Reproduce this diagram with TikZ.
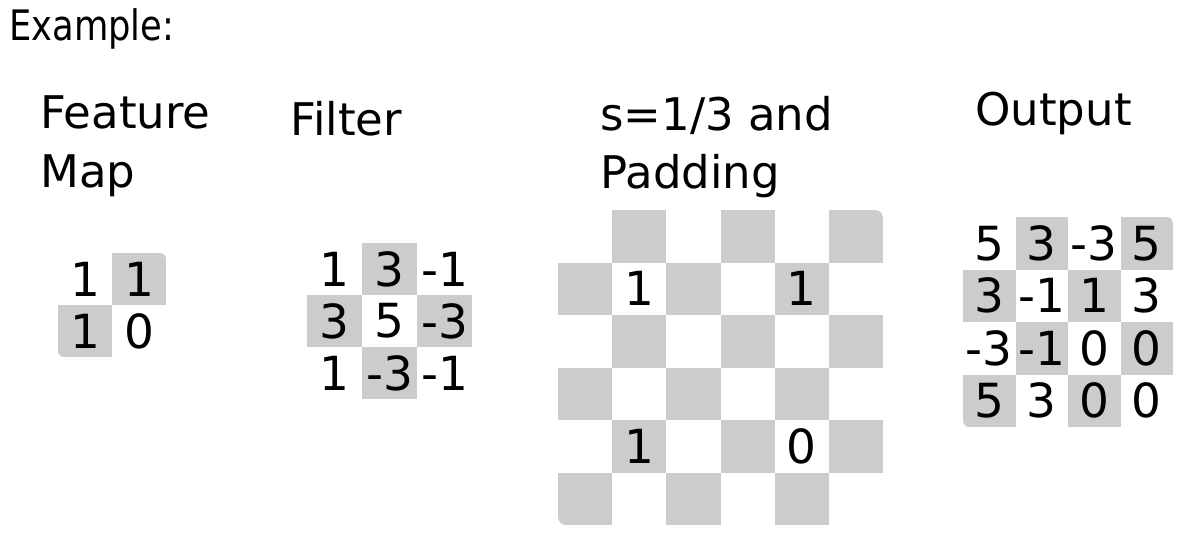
\documentclass[tikz,border=0pt]{standalone}
\usepackage{fontspec}
\setmainfont{DejaVu Sans}
\newfontfamily\narrowfont[FakeStretch=0.84]{DejaVu Sans}
\usetikzlibrary{positioning}
\definecolor{cellgray}{RGB}{204,204,204}
\tikzset{title/.style={anchor=base west, inner sep=0pt, font=\fontsize{22.5}{27}\selectfont},
         cell/.style={anchor=north west, inner sep=0pt, outer sep=0pt, font=\fontsize{23.5}{28}\selectfont},
         num/.style={inner sep=0pt, font=\fontsize{23.5}{28}\selectfont}
}

\begin{document}
\begin{tikzpicture}[x=0.5pt, y=-0.5pt]
  \fill[white] (0,0) rectangle (1196,552);
  \node[title, font=\narrowfont\fontsize{21}{25}\selectfont] (ex) at (9,40) {Example:};
  % titles
  \node[title] (fmt1) at (40,128) {Feature};
  \node[title] (fmt2) at (40,187) {Map};
  \node[title] (flt) at (290,135) {Filter};
  \node[title] (pdt1) at (600,130) {s=1/3 and};
  \node[title] (pdt2) at (600,188) {Padding};
  \node[title] (outt) at (975,125) {Output};
  % feature map
  \begin{scope}
    \clip[rounded corners=3pt] (58,253) rectangle ++(108,104);
    \foreach \row [count=\r from 0] in {{1,1},{1,0}} {
      \foreach \v [count=\c from 0] in \row {
        \ifodd\numexpr\r+\c\relax \def\cellfill{cellgray}\else\def\cellfill{white}\fi
        \node[cell, fill=\cellfill, minimum width=27pt, minimum height=26pt] (fm-\r-\c) at (58+54*\c, 253+52*\r) {\v};
      }
    }
  \end{scope}
  % filter
  \begin{scope}
    \clip[rounded corners=3pt] (307,243) rectangle ++(165,156);
    \foreach \row [count=\r from 0] in {{1,3,-1},{3,5,-3},{1,-3,-1}} {
      \foreach \v [count=\c from 0] in \row {
        \ifodd\numexpr\r+\c\relax \def\cellfill{cellgray}\else\def\cellfill{white}\fi
        \node[cell, fill=\cellfill, minimum width=27.5pt, minimum height=26pt] (fl-\r-\c) at (307+55*\c, 243+52*\r) {\v};
      }
    }
  \end{scope}
  % padded map
  \begin{scope}
    \clip[rounded corners=4pt] (558,210) rectangle ++(325,315);
    \foreach \r in {0,...,5} {
      \foreach \c in {0,...,5} {
        \ifodd\numexpr\r+\c\relax \def\cellfill{cellgray}\else\def\cellfill{white}\fi
        \node[cell, fill=\cellfill, minimum width=27.1pt, minimum height=26.25pt] (pd-\r-\c) at (558+54.2*\c, 210+52.5*\r) {};
      }
    }
  \end{scope}
  \node[num] (pv-a) at (pd-1-1) {1};
  \node[num] (pv-b) at (pd-1-4) {1};
  \node[num] (pv-c) at (pd-4-1) {1};
  \node[num] (pv-d) at (pd-4-4) {0};
  % output
  \begin{scope}
    \clip[rounded corners=3pt] (963,217) rectangle ++(210,210);
    \foreach \row [count=\r from 0] in {{5,3,-3,5},{3,-1,1,3},{-3,-1,0,0},{5,3,0,0}} {
      \foreach \v [count=\c from 0] in \row {
        \ifodd\numexpr\r+\c\relax \def\cellfill{cellgray}\else\def\cellfill{white}\fi
        \node[cell, fill=\cellfill, minimum width=26.25pt, minimum height=26.25pt] (out-\r-\c) at (963+52.5*\c, 217+52.5*\r) {\v};
      }
    }
  \end{scope}
\end{tikzpicture}
\end{document}
